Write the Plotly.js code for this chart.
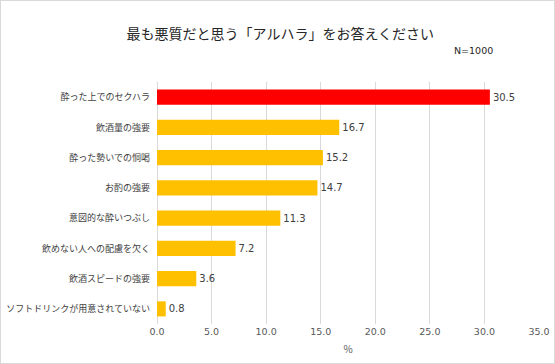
<!DOCTYPE html>
<html><head><meta charset="utf-8">
<script src="https://cdn.plot.ly/plotly-3.0.1.min.js"></script>
<style>html,body{margin:0;padding:0;background:#fff}#wrap{position:relative;width:555px;height:364px}#frame{position:absolute;left:0;top:0;width:553px;height:362px;border:1px solid #d9d9d9;pointer-events:none}</style>
</head><body>
<div id="wrap"><div id="chart" style="width:555px;height:364px"></div><div id="frame"></div></div>
<script>
const categories = ["酔った上でのセクハラ","飲酒量の強要","酔った勢いでの恫喝","お酌の強要","意図的な酔いつぶし","飲めない人への配慮を欠く","飲酒スピードの強要","ソフトドリンクが用意されていない"];
const values = [30.5,16.7,15.2,14.7,11.3,7.2,3.6,0.8];
const barColors = categories.map((c,i)=> i===0 ? "#FF0000" : "#FFC000");
const font = "'Noto Sans CJK JP','Noto Sans',sans-serif";
Plotly.newPlot("chart",[{
  type:"bar", orientation:"h", y:categories, x:values,
  marker:{color:barColors},
  text:values.map(v=>v.toFixed(1)), textposition:"outside",
  textfont:{size:10,color:"#404040",family:"Verdana, 'DejaVu Sans', sans-serif"},
  cliponaxis:false, hoverinfo:"none"
}],{
  width:555,height:364,
  margin:{l:157,r:16,t:82,b:40},
  paper_bgcolor:"#fff",plot_bgcolor:"#fff",
  bargap:0.5,
  showlegend:false,
  title:{text:"最も悪質だと思う「アルハラ」をお答えください",x:0.505,xanchor:"center",y:0.905,yanchor:"middle",font:{size:14,color:"#262626",family:font}},
  xaxis:{range:[0,35],dtick:5,tick0:0,tickformat:".1f",showgrid:true,gridcolor:"#d9d9d9",zeroline:true,zerolinecolor:"#d9d9d9",
    tickfont:{size:9.5,color:"#595959",family:"Verdana, 'DejaVu Sans', sans-serif"},ticks:"",
    title:{text:"%",font:{size:10,color:"#595959",family:font},standoff:10},fixedrange:true},
  yaxis:{autorange:"reversed",tickfont:{size:9,color:"#404040",family:font},ticks:"",ticklen:0,ticklabelstandoff:6,showgrid:false,zeroline:false,fixedrange:true},
  annotations:[{text:"N=1000",xref:"paper",yref:"paper",x:0.885,y:1.132,xanchor:"right",yanchor:"middle",showarrow:false,font:{size:9.5,color:"#262626",family:"Verdana, 'DejaVu Sans', sans-serif"}}]
},{displayModeBar:false,staticPlot:true});
</script>
</body></html>
